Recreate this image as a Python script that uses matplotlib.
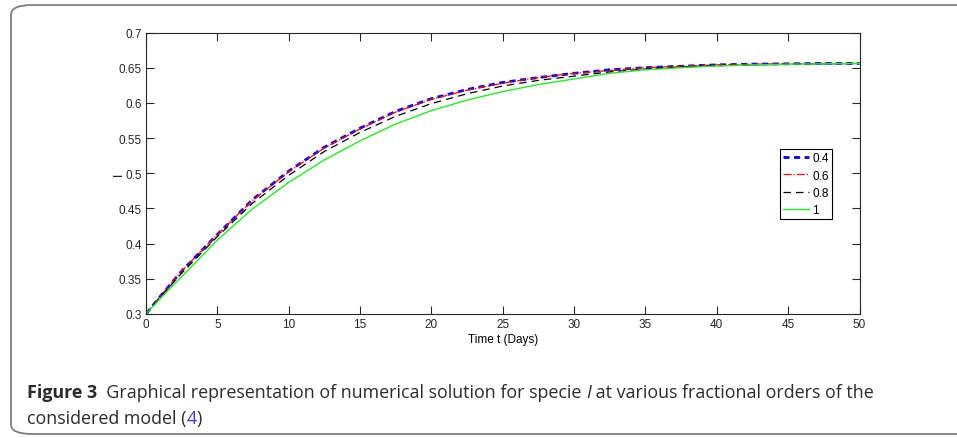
import matplotlib
matplotlib.use("Agg")
import matplotlib.pyplot as plt
from matplotlib.patches import FancyBboxPatch

# values
t = [0, 1, 2.5, 5, 7.5, 10, 12.5, 15, 17.5, 20, 22.5, 25, 27.5, 30, 32.5, 35, 37.5, 40, 42.5, 45, 47.5, 50]
i_04 = [0.300, 0.325, 0.361, 0.413, 0.463, 0.503, 0.537, 0.564, 0.588, 0.606, 0.619, 0.629, 0.636, 0.642, 0.647, 0.650, 0.652, 0.654, 0.655, 0.6555, 0.656, 0.656]
i_06 = [0.300, 0.325, 0.361, 0.413, 0.462, 0.502, 0.536, 0.563, 0.587, 0.605, 0.618, 0.628, 0.636, 0.642, 0.646, 0.650, 0.652, 0.654, 0.655, 0.6555, 0.656, 0.656]
i_08 = [0.300, 0.324, 0.358, 0.410, 0.458, 0.497, 0.531, 0.558, 0.581, 0.599, 0.613, 0.624, 0.632, 0.638, 0.644, 0.648, 0.651, 0.653, 0.654, 0.655, 0.6555, 0.656]
i_10 = [0.300, 0.322, 0.353, 0.405, 0.450, 0.487, 0.519, 0.546, 0.570, 0.589, 0.604, 0.616, 0.626, 0.634, 0.642, 0.647, 0.650, 0.6525, 0.654, 0.655, 0.6555, 0.656]
labels = ["0.4", "0.6", "0.8", "1"]

x_ticks = list(range(0, 51, 5))
y_ticks = [0.3, 0.35, 0.4, 0.45, 0.5, 0.55, 0.6, 0.65, 0.7]
y_ticklabels = ["0.3", "0.35", "0.4", "0.45", "0.5", "0.55", "0.6", "0.65", "0.7"]

plt.rcParams["font.family"] = ["Liberation Sans", "DejaVu Sans"]

fig = plt.figure(figsize=(9.57, 4.39), dpi=100)
W, H = 957, 439

# rounded frame around figure + caption
frame = FancyBboxPatch((11 / W, 1 - 435 / H), 990 / W, 429 / H,
                       boxstyle="round,pad=0,rounding_size=0.022",
                       transform=fig.transFigure, fill=False,
                       edgecolor="#7f7f7f", linewidth=1.3, clip_on=False)
fig.patches.append(frame)

ax = fig.add_axes([146 / W, 1 - 315 / H, (859.5 - 146) / W, (315 - 33.5) / H])

ax.plot(t, i_04, color="blue", linestyle="--", dashes=(2.2, 1.6), linewidth=2.0, label=labels[0])
ax.plot(t, i_06, color="red", linestyle="-.", linewidth=0.9, label=labels[1])
ax.plot(t, i_08, color="black", linestyle="--", dashes=(6, 4), linewidth=0.9, label=labels[2])
ax.plot(t, i_10, color="#22ee22", linestyle="-", linewidth=1.0, label=labels[3])

ax.set_xlim(0, 50)
ax.set_ylim(0.3, 0.7)
ax.set_xticks(x_ticks)
ax.set_yticks(y_ticks)
ax.set_yticklabels(y_ticklabels)
ax.tick_params(direction="in", length=5.5, width=0.8, top=True, right=True,
               labelsize=8.5, colors="#262626", pad=3)
for s in ax.spines.values():
    s.set_color("#262626")
    s.set_linewidth(0.8)

ax.set_xlabel("Time t (Days)", fontsize=8.5, labelpad=2)
ax.set_ylabel("I", fontsize=8.5)
ax.yaxis.set_label_coords((125 - 146) / 713.5, 0.5)

leg = ax.legend(loc="upper right", bbox_to_anchor=(0.961, 0.585), borderaxespad=0,
                fontsize=8.5, handlelength=2.2, handletextpad=0.25, labelspacing=0.45,
                borderpad=0.25, fancybox=False, framealpha=1, edgecolor="black")
leg.get_frame().set_linewidth(0.8)

# caption built from pieces
cap_font = ["Open Sans", "DejaVu Sans"]
cs = 12.85
cc = "#2b2b2b"
x0 = 27 / W
t1 = fig.text(x0, 1 - 398 / H, "Figure 3", fontsize=cs, fontweight="bold",
              family=cap_font, color=cc, va="baseline")
p = ax.annotate("  Graphical representation of numerical solution for specie ",
                xy=(1, 0), xycoords=t1, va="bottom", ha="left",
                fontsize=cs, family=cap_font, color=cc, annotation_clip=False)
p2 = ax.annotate("I", xy=(1, 0), xycoords=p, va="bottom", ha="left",
                 fontsize=cs, family=cap_font, style="italic", color=cc,
                 annotation_clip=False)
p3 = ax.annotate(" at various fractional orders of the", xy=(1, 0), xycoords=p2,
                 va="bottom", ha="left", fontsize=cs, family=cap_font, color=cc,
                 annotation_clip=False)
q1 = fig.text(x0, 1 - 424 / H, "considered model (", fontsize=cs, family=cap_font,
              color=cc, va="baseline")
q2 = ax.annotate("4", xy=(1, 0), xycoords=q1, va="bottom", ha="left",
                 fontsize=cs, family=cap_font, color="#3b3bd6", annotation_clip=False)
q3 = ax.annotate(")", xy=(1, 0), xycoords=q2, va="bottom", ha="left",
                 fontsize=cs, family=cap_font, color=cc, annotation_clip=False)

fig.savefig("out.png", dpi=100)
